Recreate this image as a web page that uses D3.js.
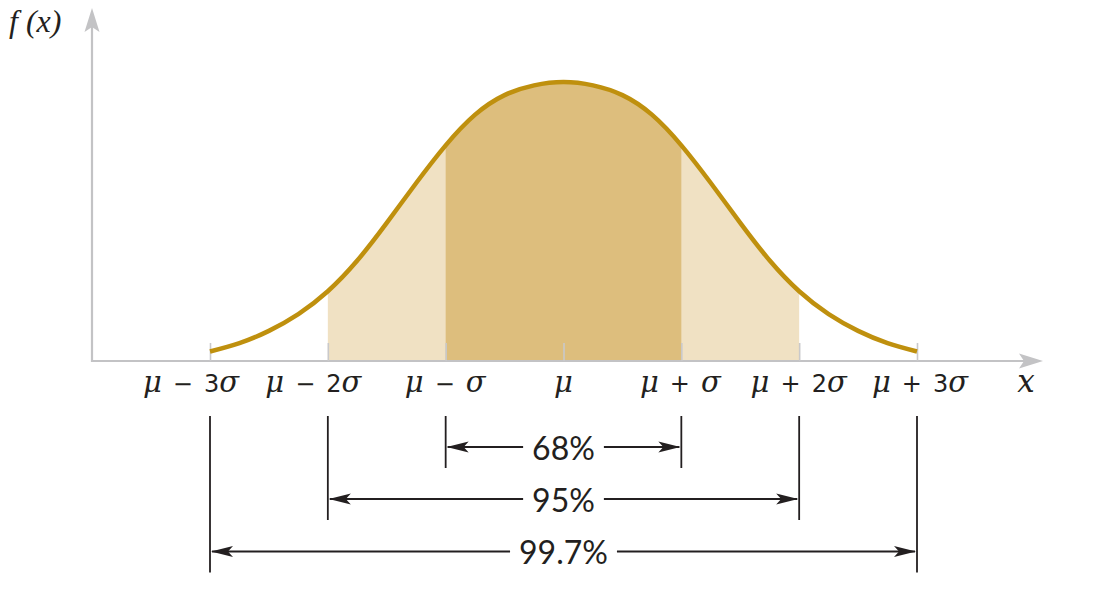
<!DOCTYPE html>
<html>
<head>
<meta charset="utf-8">
<script src="https://cdn.jsdelivr.net/npm/d3@7"></script>
<style>
  html, body { margin: 0; padding: 0; background: #ffffff; }
  svg { display: block; }
</style>
</head>
<body>
<svg id="chart" width="1104" height="590"></svg>
<script>
// ---------------- data ----------------
// positions along x in units of sigma from the mean, and relative density (peak = 1)
const curveX = [-3, -2.75, -2.5, -2.25, -2, -1.75, -1.5, -1.25, -1, -0.75, -0.5, -0.25, 0,
                0.25, 0.5, 0.75, 1, 1.25, 1.5, 1.75, 2, 2.25, 2.5, 2.75, 3];
const curveY = [0.034, 0.064, 0.108, 0.168, 0.250, 0.360, 0.495, 0.638, 0.773, 0.883, 0.953, 0.988, 1.0,
                0.988, 0.953, 0.883, 0.773, 0.638, 0.495, 0.360, 0.250, 0.168, 0.108, 0.064, 0.034];
const tickValues = [-3, -2, -1, 0, 1, 2, 3];
const tickLabels = ["μ − 3σ", "μ − 2σ", "μ − σ", "μ", "μ + σ", "μ + 2σ", "μ + 3σ"];
const bandFrom = [-2, -1];          // outer (light) band, inner (dark) band
const bandTo = [2, 1];
const rangeK = [1, 2, 3];            // ±kσ intervals
const rangeLabels = ["68%", "95%", "99.7%"];
const yLabel = "f (x)";
const xLabel = "x";

// ---------------- layout / style ----------------
const svg = d3.select("#chart");
const x = d3.scaleLinear().domain([-3, 3]).range([210, 917]);
const y = d3.scaleLinear().domain([0, 1]).range([361, 82]);
const axisColor = "#C3C3C5";
const curveColor = "#BF900E";
const bandColors = ["#F0E1C3", "#DDBE7D"];
const ink = "#231F20";
const labelShift = [-19, -14.5, -0.5, 0, -1, -0.5, 3];
const rangeY = [447, 499, 551.5];
const serif = "'Liberation Serif', 'DejaVu Serif', serif";
const greekSerif = "'DejaVu Serif', 'Liberation Serif', serif";
const sans = "'DejaVu Sans', 'Liberation Sans', sans-serif";

const pts = curveX.map((v, i) => [v, curveY[i]]);
const lineGen = d3.line().x(d => x(d[0])).y(d => y(d[1])).curve(d3.curveNatural);
const areaGen = d3.area().x(d => x(d[0])).y0(y(0)).y1(d => y(d[1])).curve(d3.curveNatural);

// band fills via clip paths
const defs = svg.append("defs");
bandFrom.forEach((f, i) => {
  defs.append("clipPath").attr("id", "band" + i)
    .append("rect")
    .attr("x", x(f)).attr("width", x(bandTo[i]) - x(f))
    .attr("y", 0).attr("height", y(0));
  svg.append("path").datum(pts)
    .attr("d", areaGen)
    .attr("fill", bandColors[i])
    .attr("clip-path", `url(#band${i})`);
});

// axes lines with arrowheads
const x0 = 92, axisY = y(0);
svg.append("line").attr("x1", x0).attr("x2", 1028).attr("y1", axisY).attr("y2", axisY)
  .attr("stroke", axisColor).attr("stroke-width", 2.2);
svg.append("path")
  .attr("d", `M1043,${axisY} L1019,${axisY - 7.5} L1024,${axisY} L1019,${axisY + 7.5} Z`)
  .attr("fill", axisColor);
svg.append("line").attr("x1", x0).attr("x2", x0).attr("y1", axisY + 1).attr("y2", 24)
  .attr("stroke", axisColor).attr("stroke-width", 2.2);
svg.append("path")
  .attr("d", `M${x0},8 L${x0 - 7.5},32 L${x0},27 L${x0 + 7.5},32 Z`)
  .attr("fill", axisColor);

// ticks via d3 axis (upward)
const axisG = svg.append("g").attr("transform", `translate(0,${axisY})`)
  .call(d3.axisBottom(x).tickValues(tickValues).tickSize(-18).tickFormat(""));
axisG.select(".domain").remove();
axisG.selectAll(".tick line").attr("stroke", "#C9C9CB").attr("stroke-width", 1.6);

// curve
svg.append("path").datum(pts)
  .attr("d", lineGen)
  .attr("fill", "none")
  .attr("stroke", curveColor)
  .attr("stroke-width", 4.5)
  .attr("stroke-linecap", "butt");

// mathematical label with italic Greek/variables in serif
function mathText(sel, str, size, varSize) {
  const parts = str.split(" ");
  parts.forEach((p, j) => {
    Array.from(p).forEach(c => {
      const isVar = /[μσx]/.test(c);
      sel.append("tspan")
        .attr("font-family", isVar ? greekSerif : sans)
        .attr("font-style", isVar ? "italic" : "normal")
        .attr("font-size", isVar ? varSize : size)
        .text(c);
    });
    if (j < parts.length - 1) sel.append("tspan").attr("font-family", sans).attr("font-size", size * 0.92).text("\u2002");
  });
}

tickValues.forEach((v, i) => {
  const t = svg.append("text")
    .attr("x", x(v) + labelShift[i]).attr("y", 392)
    .attr("text-anchor", "middle").attr("fill", ink);
  mathText(t, tickLabels[i], 24, 29);
});

// axis titles
const xl = svg.append("text").attr("x", 1026).attr("y", 392).attr("text-anchor", "middle").attr("fill", ink);
mathText(xl, xLabel, 24, 31);
svg.append("text").attr("x", 9).attr("y", 32).attr("fill", ink)
  .attr("font-family", serif).attr("font-style", "italic").attr("font-size", 32).text(yLabel);

// range arrows
const center = x(0);
rangeK.forEach((k, i) => {
  const ry = rangeY[i];
  const lx = x(-k), rx = x(k);
  const top = 416;
  svg.append("line").attr("x1", lx).attr("x2", lx).attr("y1", top).attr("y2", ry + 21)
    .attr("stroke", ink).attr("stroke-width", 1.8);
  svg.append("line").attr("x1", rx).attr("x2", rx).attr("y1", top).attr("y2", ry + 21)
    .attr("stroke", ink).attr("stroke-width", 1.8);
  const txt = svg.append("text").attr("x", center).attr("y", ry + 12.5)
    .attr("text-anchor", "middle").attr("fill", ink)
    .attr("font-family", "Lato, 'Open Sans', sans-serif").attr("font-weight", 400)
    .attr("font-size", 32).text(rangeLabels[i]);
  const w = txt.node().getComputedTextLength();
  const gap = 9;
  svg.append("line").attr("x1", lx + 2).attr("x2", center - w / 2 - gap).attr("y1", ry).attr("y2", ry)
    .attr("stroke", ink).attr("stroke-width", 2);
  svg.append("line").attr("x1", center + w / 2 + gap).attr("x2", rx - 2).attr("y1", ry).attr("y2", ry)
    .attr("stroke", ink).attr("stroke-width", 2);
  svg.append("path").attr("d", `M${lx + 1},${ry} L${lx + 23},${ry - 5.5} L${lx + 18},${ry} L${lx + 23},${ry + 5.5} Z`).attr("fill", ink);
  svg.append("path").attr("d", `M${rx - 1},${ry} L${rx - 23},${ry - 5.5} L${rx - 18},${ry} L${rx - 23},${ry + 5.5} Z`).attr("fill", ink);
});
</script>
</body>
</html>
